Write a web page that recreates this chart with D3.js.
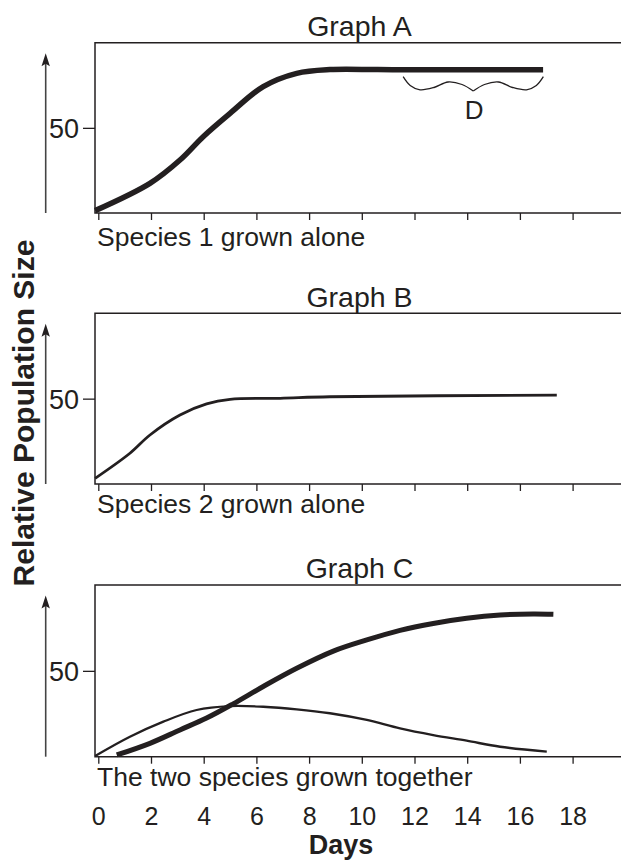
<!DOCTYPE html>
<html>
<head>
<meta charset="utf-8">
<script src="https://cdn.jsdelivr.net/npm/d3@7"></script>
<style>
  body { margin: 0; background: #fff; }
  text { font-family: "Liberation Sans", Arial, Helvetica, sans-serif; fill: #231f20; }
</style>
</head>
<body>
<script>
// chart data
var dayTicks = [0, 2, 4, 6, 8, 10, 12, 14, 16, 18];
var sizeTicks = [50];
var panelTitles = ["Graph A", "Graph B", "Graph C"];
var panelCaptions = ["Species 1 grown alone", "Species 2 grown alone", "The two species grown together"];

// Graph A: species 1 alone
var aDays = [-0.12, 1.96, 3.1, 3.98, 5.0, 6.26, 7.53, 8.79, 10.6, 12.5, 16.88];
var aSize = [1.4, 17.4, 31.1, 44.8, 58.5, 74.2, 82.0, 84.2, 84.2, 84.1, 84.1];

// Graph B: species 2 alone
var bDays = [-0.12, 1.2, 1.96, 3.1, 4.11, 5.0, 6.9, 8.79, 17.4];
var bSize = [3.3, 18.0, 28.7, 40.4, 46.9, 49.6, 50.2, 51.1, 52.1];

// Graph C: grown together (species 1 thick, species 2 thin)
var cDays1 = [0.7, 1.96, 3.1, 4.11, 5.12, 6.26, 7.53, 8.92, 10.19, 11.45, 12.71, 13.98, 15.25, 16.5, 17.27];
var cSize1 = [1.0, 7.8, 15.6, 22.5, 30.8, 40.9, 51.5, 61.5, 68.0, 73.6, 77.6, 80.6, 82.5, 83.1, 82.9];
var cDays2 = [-0.12, 1.2, 2.47, 3.73, 5.0, 6.26, 7.53, 8.79, 10.19, 11.45, 12.71, 13.98, 15.25, 17.02];
var cSize2 = [0.4, 11.6, 20.4, 27.2, 29.5, 29.1, 27.6, 25.3, 21.4, 16.5, 12.6, 9.3, 5.8, 2.9];

// interval marked D in Graph A
var dStart = 11.57, dEnd = 16.89;

var width = 621, height = 861;
var ink = "#231f20";

var svg = d3.select("body").append("svg")
  .attr("width", width)
  .attr("height", height);

var x = d3.scaleLinear().domain([0, 18]).range([98.3, 572.6]);
var boxLeft = 95, boxRight = 640;

// panel layout
var panels = [
  { top: 42.7, bottom: 213, titleY: 36, captionY: 246,
    series: [{ d: aDays, v: aSize, w: 5.5 }] },
  { top: 313.3, bottom: 484, titleY: 306.5, captionY: 513,
    series: [{ d: bDays, v: bSize, w: 2.8 }] },
  { top: 585, bottom: 756.7, titleY: 578, captionY: 786,
    series: [{ d: cDays2, v: cSize2, w: 2.3 }, { d: cDays1, v: cSize1, w: 5 }] }
];

panels.forEach(function(p, i) {
  var y = d3.scaleLinear().domain([0, 100]).range([p.bottom, p.top]);
  var g = svg.append("g");

  // box (top, left, bottom)
  g.append("path")
    .attr("d", "M" + boxRight + "," + p.top + "H" + boxLeft + "V" + p.bottom + "H" + boxRight)
    .attr("fill", "none")
    .attr("stroke", ink)
    .attr("stroke-width", 1.5);

  // day ticks
  var xAxis = d3.axisBottom(x).tickValues(dayTicks).tickSize(7).tickFormat("");
  var xg = g.append("g")
    .attr("transform", "translate(0," + p.bottom + ")")
    .call(xAxis);
  xg.select(".domain").remove();
  xg.selectAll("line").attr("stroke", ink).attr("stroke-width", 1.3);

  // 50 tick
  var yAxis = d3.axisLeft(y).tickValues(sizeTicks).tickSize(12).tickPadding(4);
  var yg = g.append("g")
    .attr("transform", "translate(" + boxLeft + ",0)")
    .call(yAxis);
  yg.select(".domain").remove();
  yg.selectAll("line").attr("stroke", ink).attr("stroke-width", 1.3);
  yg.selectAll("text")
    .style("font-family", "'Liberation Sans', Arial, sans-serif")
    .style("font-size", "27px")
    .attr("fill", ink)
    .attr("dy", "0.36em");

  // arrow up the left side
  var ax = 45.7, tipY = p.top + 10.5;
  g.append("line")
    .attr("x1", ax).attr("x2", ax)
    .attr("y1", p.bottom).attr("y2", tipY + 8)
    .attr("stroke", "#444").attr("stroke-width", 1.6);
  g.append("path")
    .attr("d", "M" + ax + "," + tipY + "L" + (ax + 4.2) + "," + (tipY + 13) + "L" + ax + "," + (tipY + 10.5) + "L" + (ax - 4.2) + "," + (tipY + 13) + "Z")
    .attr("fill", ink);

  // title
  g.append("text")
    .attr("x", 359.5)
    .attr("y", p.titleY)
    .attr("text-anchor", "middle")
    .style("font-size", "28.5px")
    .text(panelTitles[i]);

  // caption
  g.append("text")
    .attr("x", 97)
    .attr("y", p.captionY)
    .style("font-size", "26.5px")
    .text(panelCaptions[i]);

  // curves
  var line = d3.line()
    .x(function(d) { return x(d[0]); })
    .y(function(d) { return y(d[1]); })
    .curve(d3.curveCatmullRom.alpha(0.5));

  p.series.forEach(function(s) {
    g.append("path")
      .datum(d3.zip(s.d, s.v))
      .attr("d", line)
      .attr("fill", "none")
      .attr("stroke", ink)
      .attr("stroke-width", s.w)
      .attr("stroke-linecap", "butt");
  });
});

// brace D under the plateau of graph A
var braceHalf = [[0, 76.7], [0.05, 85.5], [0.12, 89.8], [0.22, 87.5], [0.32, 82], [0.42, 84.5], [0.5, 91]];
var braceLine = d3.line()
  .x(function(d) { return x(dStart) + d[0] * (x(dEnd) - x(dStart)); })
  .y(function(d) { return d[1]; })
  .curve(d3.curveCatmullRom);
svg.append("path")
  .attr("d", braceLine(braceHalf))
  .attr("fill", "none").attr("stroke", ink).attr("stroke-width", 1.3);
svg.append("path")
  .attr("d", braceLine(braceHalf.map(function(d) { return [1 - d[0], d[1]]; })))
  .attr("fill", "none").attr("stroke", ink).attr("stroke-width", 1.3);
svg.append("text")
  .attr("x", (x(dStart) + x(dEnd)) / 2 + 1)
  .attr("y", 118.5)
  .attr("text-anchor", "middle")
  .style("font-size", "26px")
  .text("D");

// bottom day labels
var xLab = svg.append("g")
  .attr("transform", "translate(0,825)")
  .call(d3.axisBottom(x).tickValues(dayTicks).tickSize(0).tickPadding(0));
xLab.select(".domain").remove();
xLab.selectAll("text")
  .attr("dy", 0)
  .style("font-family", "'Liberation Sans', Arial, sans-serif")
  .style("font-size", "25px")
  .attr("fill", ink);

svg.append("text")
  .attr("x", 341)
  .attr("y", 854)
  .attr("text-anchor", "middle")
  .style("font-size", "27px")
  .style("font-weight", "bold")
  .text("Days");

svg.append("text")
  .attr("transform", "translate(33.5,413) rotate(-90)")
  .attr("text-anchor", "middle")
  .style("font-size", "30px")
  .style("font-weight", "bold")
  .text("Relative Population Size");
</script>
</body>
</html>
